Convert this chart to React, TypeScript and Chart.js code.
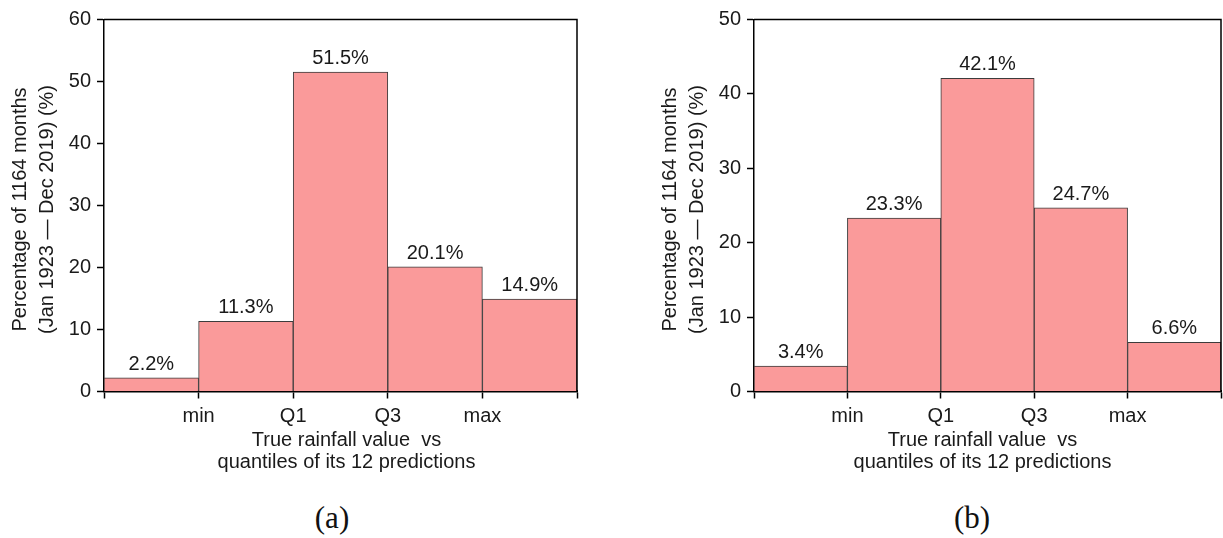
import React, { useEffect, useRef } from "react";
import { Chart, registerables } from "chart.js";

Chart.register(...registerables);

// ============================================================================
// DATA
// ============================================================================

// five bins of the true value against the quantiles of its 12 predictions
const binNames = ["< min", "min–Q1", "Q1–Q3", "Q3–max", "> max"];
// labels sit on the bin boundaries, the outer two are blank
const boundaryLabels = ["", "min", "Q1", "Q3", "max", ""];

const panelAValues = [2.2, 11.3, 51.5, 20.1, 14.9];
const panelBValues = [3.4, 23.3, 42.1, 24.7, 6.6];

const panelAYMax = 60;
const panelBYMax = 50;
const yStep = 10;

const xTitleLines = ["True rainfall value  vs", "quantiles of its 12 predictions"];
const yTitleLines = ["Percentage of 1164 months", "(Jan 1923 \u2014 Dec 2019) (%)"];

// ============================================================================
// STYLE
// ============================================================================

const FONT = "'Liberation Sans', Arial, Helvetica, sans-serif";
const TEXT = "#1a1a1a";
const BAR_FILL = "#fa9a9a";
const BAR_EDGE = "#3c3c3c";

// ============================================================================
// PLUGINS
// ============================================================================

const barValueLabels = {
  id: "barValueLabels",
  afterDatasetsDraw(chart: any) {
    const { ctx } = chart;
    const meta = chart.getDatasetMeta(0);
    const pts = chart.data.datasets[0].data;
    ctx.save();
    ctx.font = `20px ${FONT}`;
    ctx.fillStyle = TEXT;
    ctx.textAlign = "center";
    ctx.textBaseline = "alphabetic";
    meta.data.forEach((bar: any, i: number) => {
      ctx.fillText(`${pts[i].y.toFixed(1)}%`, bar.x, bar.y - 8);
    });
    ctx.restore();
  },
};

// top + right sides of the box, plus the two axis titles
const frameAndTitles = {
  id: "frameAndTitles",
  afterDraw(chart: any, _args: any, opts: any) {
    const { ctx, chartArea: a } = chart;
    ctx.save();
    ctx.strokeStyle = "#000";
    ctx.lineWidth = 1.5;
    ctx.beginPath();
    ctx.moveTo(a.left, a.top);
    ctx.lineTo(a.right, a.top);
    ctx.lineTo(a.right, a.bottom);
    ctx.stroke();

    ctx.font = `20px ${FONT}`;
    ctx.fillStyle = TEXT;
    ctx.textAlign = "center";

    // x title
    ctx.textBaseline = "alphabetic";
    const cx = (a.left + a.right) / 2 + (opts.xShift || 0);
    xTitleLines.forEach((line, i) => {
      ctx.fillText(line, cx, a.bottom + 54.5 + i * 22);
    });

    // y title (rotated)
    const cy = (a.top + a.bottom) / 2 + 4;
    ctx.textBaseline = "middle";
    yTitleLines.forEach((line, i) => {
      ctx.save();
      ctx.translate(a.left - 84 + i * 27, cy);
      ctx.rotate(-Math.PI / 2);
      ctx.fillText(line, 0, 0);
      ctx.restore();
    });
    ctx.restore();
  },
};

// ============================================================================
// COMPONENT
// ============================================================================

interface PanelProps {
  values: number[];
  yMax: number;
  left: number;
  width: number;
  padRight: number;
  xShift: number;
}

const PANEL_H = 480;
const PLOT_BOTTOM = 391.5;

const HistPanel = ({ values, yMax, left, width, padRight, xShift }: PanelProps) => {
  const canvasRef = useRef<HTMLCanvasElement | null>(null);

  useEffect(() => {
    const ctx = canvasRef.current?.getContext("2d");
    if (!ctx) return;

    const chart = new Chart(ctx, {
      type: "bar",
      data: {
        datasets: [
          {
            label: "share of months",
            data: values.map((v, i) => ({ x: i + 0.5, y: v, bin: binNames[i] })) as any,
            backgroundColor: BAR_FILL,
            borderColor: BAR_EDGE,
            borderWidth: 1,
            barPercentage: 1,
            categoryPercentage: 1,
          },
        ],
      },
      options: {
        responsive: true,
        maintainAspectRatio: false,
        animation: false,
        layout: { padding: { top: 19.5, right: padRight, left: 0, bottom: 0 } },
        plugins: {
          legend: { display: false },
          tooltip: { enabled: false },
          frameAndTitles: { xShift },
        } as any,
        scales: {
          x: {
            type: "linear",
            min: 0,
            max: boundaryLabels.length - 1,
            offset: false,
            z: 1,
            grid: {
              offset: false,
              drawOnChartArea: false,
              drawTicks: true,
              tickLength: 7,
              tickWidth: 1.5,
              tickColor: "#000",
            },
            border: { display: true, color: "#000", width: 2.5 },
            ticks: {
              stepSize: 1,
              autoSkip: false,
              maxRotation: 0,
              padding: 6,
              color: TEXT,
              font: { family: FONT, size: 20 },
              callback: (v: any) => boundaryLabels[Math.round(Number(v))] ?? "",
            },
            afterFit: (s: any) => {
              s.height = PANEL_H - PLOT_BOTTOM;
            },
          },
          y: {
            min: 0,
            max: yMax,
            z: 1,
            grid: {
              drawOnChartArea: false,
              drawTicks: true,
              tickLength: 7,
              tickWidth: 1.5,
              tickColor: "#000",
            },
            border: { display: true, color: "#000", width: 1.5 },
            ticks: {
              stepSize: yStep,
              padding: 6,
              color: TEXT,
              font: { family: FONT, size: 20 },
            },
            afterFit: (s: any) => {
              s.width = 104;
            },
          },
        },
      } as any,
      plugins: [barValueLabels, frameAndTitles],
    });

    return () => {
      chart.destroy();
    };
  }, [values, yMax, padRight, xShift]);

  return (
    <div style={{ position: "absolute", left, top: 0, width, height: PANEL_H }}>
      <canvas ref={canvasRef} />
    </div>
  );
};

const captionStyle = (cx: number): React.CSSProperties => ({
  position: "absolute",
  left: cx - 40,
  top: 500,
  width: 80,
  height: 36,
  lineHeight: "36px",
  textAlign: "center",
  fontFamily: "'Liberation Serif', 'Times New Roman', serif",
  fontSize: 31,
  color: "#111",
});

export default function App() {
  return (
    <div
      style={{
        position: "fixed",
        left: 0,
        top: 0,
        width: 1223,
        height: 538,
        background: "#fff",
        overflow: "hidden",
      }}
    >
      <HistPanel values={panelAValues} yMax={panelAYMax} left={0} width={600} padRight={23} xShift={6} />
      <HistPanel values={panelBValues} yMax={panelBYMax} left={650} width={577} padRight={1.5} xShift={-5} />
      <div style={captionStyle(332)}>(a)</div>
      <div style={captionStyle(972)}>(b)</div>
    </div>
  );
}
